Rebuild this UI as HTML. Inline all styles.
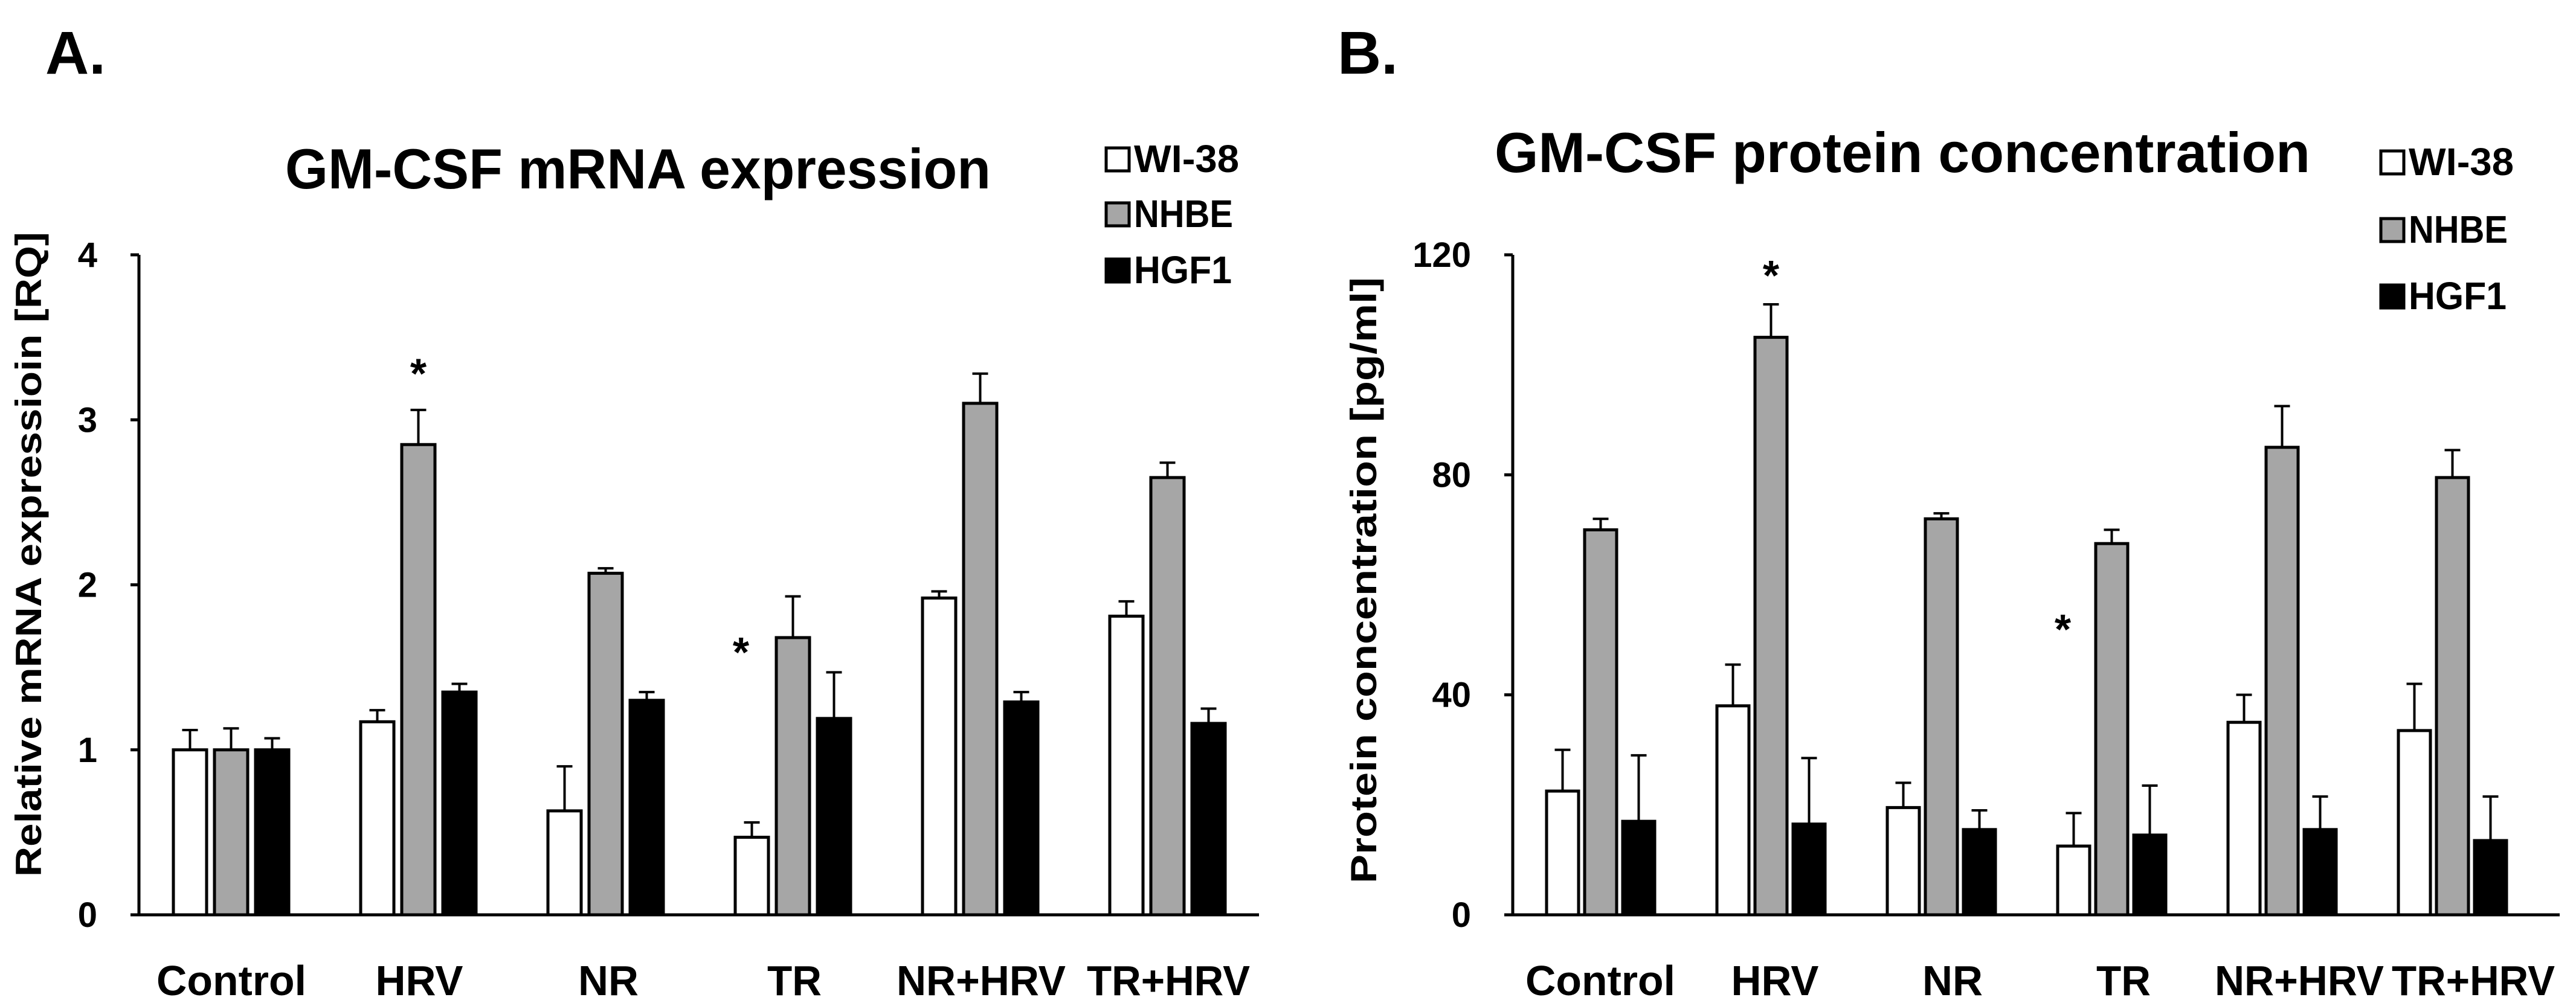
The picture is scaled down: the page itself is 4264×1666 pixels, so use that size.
<!DOCTYPE html>
<html><head><meta charset="utf-8"><style>
html,body{margin:0;padding:0;background:#fff;}
svg{display:block;font-family:"Liberation Sans",sans-serif;font-weight:bold;}
</style></head><body>
<svg id="fig" width="4264" height="1666" viewBox="0 0 4264 1666" xmlns="http://www.w3.org/2000/svg"></svg>
<script>
const categories = ["Control","HRV","NR","TR","NR+HRV","TR+HRV"];
const seriesNames = ["WI-38","NHBE","HGF1"];
const aWI38 = [1.0,1.17,0.63,0.47,1.92,1.81];
const aWI38Err = [0.12,0.07,0.27,0.09,0.04,0.09];
const aNHBE = [1.0,2.85,2.07,1.68,3.1,2.65];
const aNHBEErr = [0.13,0.21,0.03,0.25,0.18,0.09];
const aHGF1 = [1.0,1.35,1.3,1.19,1.29,1.16];
const aHGF1Err = [0.07,0.05,0.05,0.28,0.06,0.09];
const aTicks = [0,1,2,3,4];
const aStars = [{cat:1,ser:1,val:3.34},{cat:3,ser:0,val:1.65}];
const bWI38 = [22.5,38,19.5,12.5,35,33.5];
const bWI38Err = [7.5,7.5,4.5,6,5,8.5];
const bNHBE = [70,105,72,67.5,85,79.5];
const bNHBEErr = [2,6,1,2.5,7.5,5];
const bHGF1 = [17,16.5,15.5,14.5,15.5,13.5];
const bHGF1Err = [12,12,3.5,9,6,8];
const bTicks = [0,40,80,120];
const bStars = [{cat:1,ser:1,val:118},{cat:3,ser:0,val:53.7}];

const NS="http://www.w3.org/2000/svg";
const svg=document.getElementById('fig');
function mk(tag,attrs,parent){const e=document.createElementNS(NS,tag);for(const k in attrs)e.setAttribute(k,attrs[k]);(parent||svg).appendChild(e);return e;}
const fills=["#ffffff","#a6a6a6","#000000"];

function panel(o){
  const g=mk('g',{});
  
  
  const y=v=>o.y0-(v/o.ymax)*(o.y0-o.yTop);
  const barX=(c,s)=>o.x0+c*o.step+s*o.bstep;
  const L=mk('text',{x:o.letterX,y:122,'font-size':100},g);L.textContent=o.letter;
  
  
  const t=mk('text',{x:o.titleX,y:o.titleY,'font-size':94,textLength:o.titleW,lengthAdjust:'spacingAndGlyphs'},g);t.textContent=o.title;
  
  
  const ax=mk('path',{d:`M${o.axX},${o.yTop} V${o.y0} H${o.axEnd}`,stroke:'#000','stroke-width':5,fill:'none'},g);
  
  
  o.ticks.forEach(v=>{
    const ty=y(v);
    mk('line',{x1:o.axX-14,x2:o.axX,y1:ty,y2:ty,stroke:'#000','stroke-width':5},g);
    const tl=mk('text',{x:o.tickR,y:ty+20,'font-size':58,'text-anchor':'end'},g);tl.textContent=v;
    
    
  });
  const yt=mk('text',{x:0,y:0,'font-size':60,'text-anchor':'middle',textLength:o.ytW,lengthAdjust:'spacingAndGlyphs',transform:`translate(${o.ytX},${o.ytY}) rotate(-90)`},g);yt.textContent=o.ytitle;
  
  
  o.series.forEach((arr,s)=>{
    arr.forEach((v,c)=>{
      const bx=barX(c,s), by=y(v);
      const r=mk('rect',{x:bx,y:by,width:o.bw,height:o.y0-by,fill:fills[s],stroke:'#000','stroke-width':5},g);
      
      
      const ey=y(v+o.errs[s][c]), cx=bx+o.bw/2;
      const e=mk('path',{d:`M${cx},${by} V${ey} M${cx-13},${ey} H${cx+13}`,stroke:'#000','stroke-width':4,fill:'none'},g);
      
      
    });
  });
  o.stars.forEach(st=>{
    const sx=barX(st.cat,st.ser)+o.bw/2+(st.ser===0?-18:0);
    const s=mk('text',{x:sx,y:y(st.val)+40,'font-size':70,'text-anchor':'middle'},g);s.textContent='*';
    
    
  });
  categories.forEach((c,i)=>{
    const cl=mk('text',{x:o.catX[i],y:1648,'font-size':70,'text-anchor':'middle',textLength:o.catW[i],lengthAdjust:'spacingAndGlyphs'},g);cl.textContent=c;
    
    
  });
  seriesNames.forEach((n,i)=>{
    const ly=o.legY[i];
    const r=mk('rect',{x:o.legX,y:ly,width:38,height:38,fill:fills[i],stroke:'#000','stroke-width':5},g);
    
    
    const lt=mk('text',{x:o.legX+46,y:ly+40,'font-size':64,textLength:o.legW[i],lengthAdjust:'spacingAndGlyphs'},g);lt.textContent=n;
    
    
  });
}

panel({id:'mrna',letter:'A.',letterX:75,title:'GM-CSF mRNA expression',titleX:472,titleY:312,titleW:1168,
  axX:230,axEnd:2084,yTop:422,y0:1515,ymax:4,ticks:aTicks,tickR:161,
  ytitle:'Relative mRNA expressioin [RQ]',ytX:68,ytY:918,ytW:1068,
  x0:287,step:310,bstep:68,bw:55,
  series:[aWI38,aNHBE,aHGF1],errs:[aWI38Err,aNHBEErr,aHGF1Err],stars:aStars,
  catX:[383,694,1007,1315,1624,1934],catW:[248,145,100,90,280,270],
  legX:1831,legY:[245,336,429],legW:[174,164,162]});
panel({id:'protein',letter:'B.',letterX:2214,title:'GM-CSF protein concentration',titleX:2474,titleY:285,titleW:1350,
  axX:2504,axEnd:4237,yTop:422,y0:1515,ymax:120,ticks:bTicks,tickR:2435,
  ytitle:'Protein concentration [pg/ml]',ytX:2278,ytY:961,ytW:1004,
  x0:2560,step:282,bstep:63,bw:53,
  series:[bWI38,bNHBE,bHGF1],errs:[bWI38Err,bNHBEErr,bHGF1Err],stars:bStars,
  catX:[2649,2938,3232,3515,3806,4094],catW:[248,145,100,90,280,270],
  legX:3941,legY:[250,362,472],legW:[174,164,162]});
</script>
</body></html>
